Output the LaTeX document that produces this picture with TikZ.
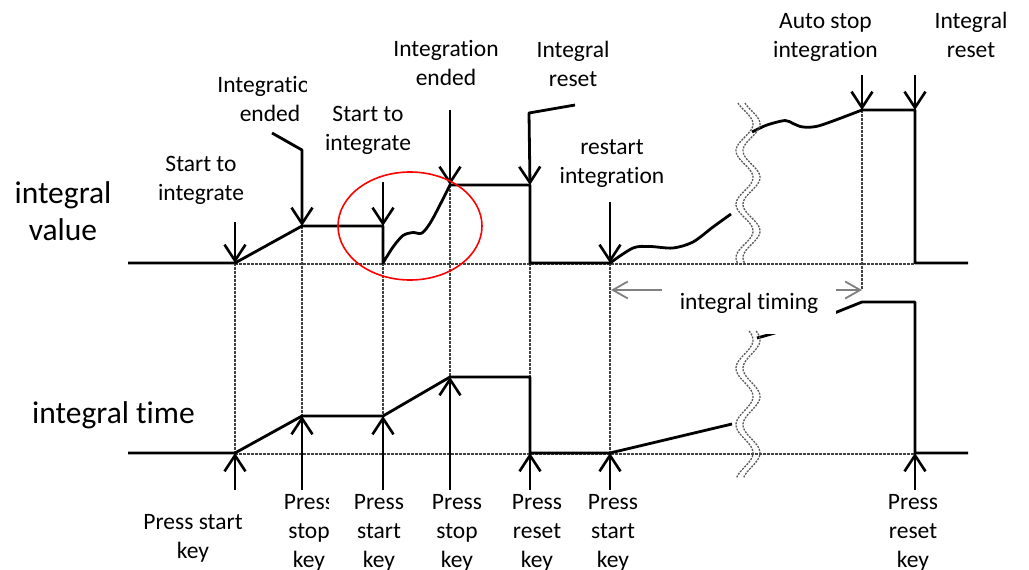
\documentclass[tikz,border=0pt]{standalone}
\usepackage{fontspec}
\setmainfont{Carlito}[Ligatures=NoCommon]
\usetikzlibrary{arrows.meta}
\begin{document}
\begin{tikzpicture}[x=1pt,y=-1pt,
  sig/.style={line width=2.8pt, line join=round},
  evarrow/.style={line width=2.8pt, line join=round, -{Straight Barb[length=16pt,width=21pt,line width=2.6pt]}},
  guide/.style={black!75, line width=1.5pt, dash pattern=on 2.5pt off 1.5pt},
  brk/.style={black!65, line width=1.3pt, dash pattern=on 2pt off 1.2pt},
  tmarrow/.style={black!50, line width=2pt, {Straight Barb[length=15pt,width=17pt,line width=1.8pt]}-{Straight Barb[length=15pt,width=17pt,line width=1.8pt]}},
  lbl/.style={font=\fontsize{23.5}{29}\selectfont, align=center, inner sep=0pt, anchor=base},
  big/.style={font=\fontsize{31.5}{37}\selectfont, align=center, inner sep=0pt, anchor=base},
]
\useasboundingbox (0,0) rectangle (1029,570);

% ---------- event coordinates ----------
\coordinate (u1) at (235,263); \coordinate (u2) at (302,226); \coordinate (u3) at (383,226);
\coordinate (u4) at (450,185); \coordinate (u5) at (530,185); \coordinate (u6) at (610,263);
\coordinate (u7) at (862,110); \coordinate (u8) at (915,110);
\coordinate (d1) at (235,453); \coordinate (d2) at (302,416); \coordinate (d3) at (383,416);
\coordinate (d4) at (450,377); \coordinate (d5) at (530,453); \coordinate (d6) at (610,453);
\coordinate (d8) at (915,453);

% ---------- guide (dotted) lines ----------
\draw[guide] (235,264) -- (915,264);
\draw[guide] (235,454) -- (915,454);
\draw[guide] (u1) -- (d1);
\draw[guide] (u2) -- (d2);
\draw[guide] (383,263) -- (d3);
\draw[guide] (u4) -- (d4);
\draw[guide] (530,263) -- (530,377);
\draw[guide] (u6) -- (d6);
\draw[guide] (u7) -- (862,290);

% ---------- integral value signal ----------
\draw[sig] (128,263) -- (u1) -- (u2) -- (u3) -- (383,263)
  -- plot[smooth] coordinates {(383,263) (393,247) (403,235.5) (413,232.5) (422,233) (432,220) (u4)}
  -- (u5) -- (530,263) -- (u6)
  -- plot[smooth] coordinates {(u6) (633,248) (650,246.5) (673,248) (693,242) (713,227) (731,214)};
\draw[sig] plot[smooth] coordinates {(752,132) (767,125) (785,120.5) (793,123.5) (803,127) (820,125.5) (u7)}
  -- (u8) -- (915,263) -- (968,263);

% ---------- integral time signal ----------
\draw[sig] (128,453) -- (d1) -- (d2) -- (d3) -- (d4) -- (530,377) -- (d5) -- (d6) -- (732,424);
\draw[sig] (757,338) .. controls (772,334) and (800,326) .. (837,312) -- (862,302) -- (915,302) -- (d8) -- (968,453);

% ---------- integral timing span ----------
\draw[tmarrow] (611,290) -- (862,290);
\node[font=\fontsize{23.5}{29}\selectfont, inner sep=0pt, anchor=base, fill=white,
      minimum width=174pt, text height=25pt, text depth=25pt] (tm) at (749,309) {integral timing};

% ---------- break marks ----------
\foreach \o in {-3.5,3.5} {
  \draw[brk] plot[domain=103:263, samples=90, smooth, variable=\t] ({748+\o+8.5*cos((\t-124)*6.729)}, \t);
  \draw[brk] plot[domain=331:478, samples=90, smooth, variable=\t] ({748+\o+8.5*cos((\t-340)*6.372)}, \t);
}

% ---------- event arrows (top) ----------
\draw[evarrow] (235,222) -- (u1);
\draw[evarrow] (272,133) -- (302,150) -- (u2);
\draw[evarrow] (383,182) -- (u3);
\draw[evarrow] (450,110) -- (u4);
\draw[evarrow] (575,105) -- (529,113) -- (u5);
\draw[evarrow] (610,202) -- (u6);
\draw[evarrow] (862,75) -- (u7);
\draw[evarrow] (915,75) -- (u8);

% ---------- key arrows (bottom) ----------
\foreach \x/\n in {235/d1, 302/d2, 383/d3, 450/d4, 530/d5, 610/d6, 915/d8}
  \draw[evarrow] (\x,490) -- (\n);

% ---------- red highlight ----------
\draw[red, line width=1.6pt] (410,226) ellipse [x radius=72, y radius=54];

% ---------- labels (anchor = baseline of the last line) ----------
\node[big] (iv) at (63,240) {integral\\value};
\node[big] (it) at (113.5,423) {integral time};

\node[lbl] (t1) at (201,200.5) {Start to\\integrate};
\begin{scope}
  \clip (150,55) rectangle (306,135);
  \node[lbl] (t2) at (270,121.7) {Integration\\ended};
\end{scope}
\node[lbl] (t3) at (368,150) {Start to\\integrate};
\node[lbl] (t4) at (446,85) {Integration\\ended};
\node[lbl] (t5) at (573,86.5) {Integral\\reset};
\node[lbl] (t6) at (612,183.3) {restart\\integration};
\node[lbl] (t7) at (825.5,57.3) {Auto stop\\integration};
\node[lbl] (t8) at (971,57.3) {Integral\\reset};

\node[lbl] (b1) at (193,558) {Press start\\key};
\begin{scope}
  \clip (270,480) rectangle (328,575);
  \node[lbl] (b2) at (309,567) {Press\\stop\\key};
\end{scope}
\node[lbl] (b3) at (379,567) {Press\\start\\key};
\node[lbl] (b4) at (457,567) {Press\\stop\\key};
\node[lbl] (b5) at (537,567) {Press\\reset\\key};
\node[lbl] (b6) at (613,567) {Press\\start\\key};
\node[lbl] (b8) at (913,567) {Press\\reset\\key};
\end{tikzpicture}
\end{document}
